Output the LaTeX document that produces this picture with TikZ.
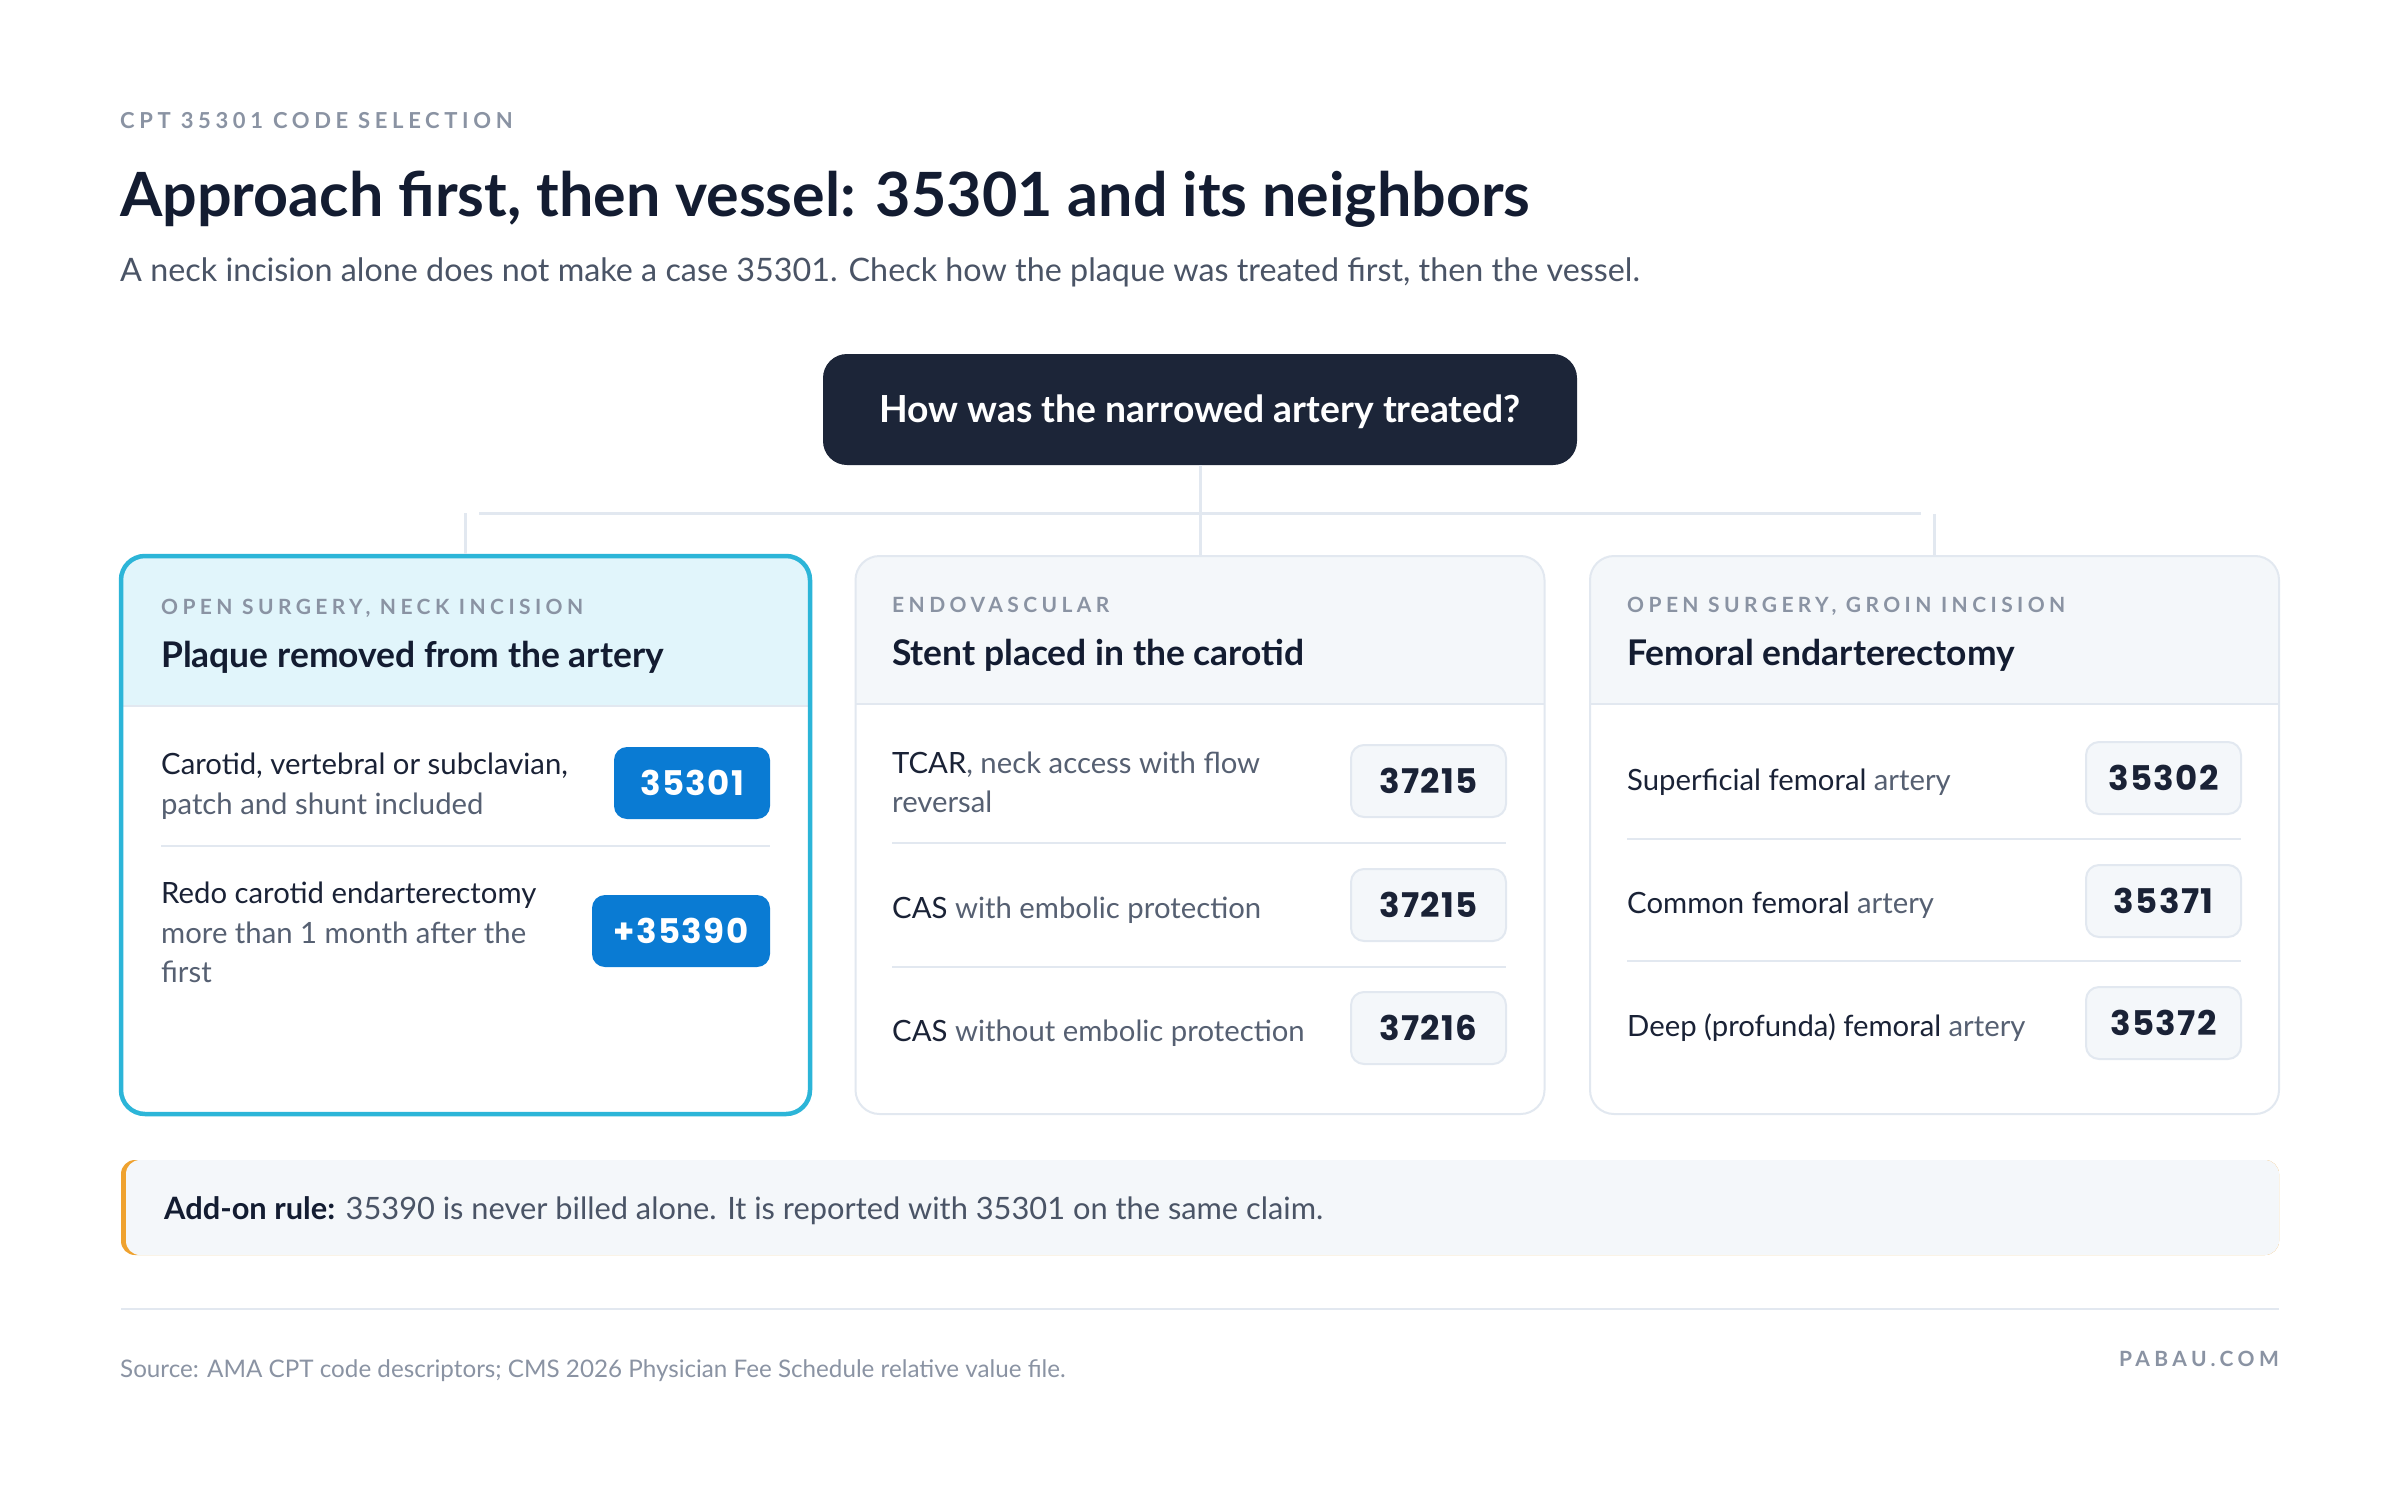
\documentclass[tikz,border=0pt]{standalone}
\usepackage{fontspec}
\setmainfont{Lato}
\newfontfamily\badgefont[Numbers=Monospaced,LetterSpace=4]{Poppins}
\newfontfamily\capsfont[LetterSpace=21]{Lato}
\definecolor{navy}{HTML}{1C2538}
\definecolor{ink}{HTML}{131C31}
\definecolor{bodyc}{HTML}{1A2236}
\definecolor{soft}{HTML}{566072}
\definecolor{subt}{HTML}{4A5466}
\definecolor{muted}{HTML}{8A93A3}
\definecolor{rulec}{HTML}{E2E8F0}
\definecolor{panel}{HTML}{F4F7FA}
\definecolor{cyanb}{HTML}{2CB5D8}
\definecolor{cyanf}{HTML}{E1F5FB}
\definecolor{blueb}{HTML}{0A7BD3}
\definecolor{orangec}{HTML}{EFA22F}
\begin{document}
\begin{tikzpicture}[x=1pt,y=-1pt,
  txt/.style={inner sep=0pt, anchor=base west},
  bodytxt/.style={txt, text=bodyc, font=\fontsize{29.3}{34}\selectfont},
  softtxt/.style={txt, text=soft, font=\fontsize{29.3}{34}\selectfont},
  eyebrowtxt/.style={txt, text=muted, font=\capsfont\bfseries\fontsize{21}{25}\selectfont},
  cardtitle/.style={txt, text=ink, font=\bfseries\fontsize{35.4}{40}\selectfont},
  cardbox/.style={draw=rulec, line width=2pt, rounded corners=24pt, minimum width=689pt, minimum height=558pt, inner sep=0pt},
  bluebadge/.style={fill=blueb, rounded corners=13pt, minimum height=72pt, inner sep=0pt, text=white, font=\badgefont\bfseries\fontsize{34}{38}\selectfont},
  graybadge/.style={fill=panel, draw=rulec, line width=2pt, rounded corners=13pt, minimum width=155pt, minimum height=72pt, inner sep=0pt, text=bodyc, font=\badgefont\bfseries\fontsize{34}{38}\selectfont},
  sep/.style={draw=rulec, line width=2.5pt},
  conn/.style={draw=rulec, line width=3pt}
]
\useasboundingbox (0,0) rectangle (2400,1490);
\fill[white] (0,0) rectangle (2400,1490);

% heading
\node[eyebrowtxt, font=\capsfont\bfseries\fontsize{22}{26}\selectfont] (eyebrow) at (120,129) {CPT 35301 CODE SELECTION};
\node[txt, text=ink, font=\bfseries\fontsize{61}{66}\selectfont] (title) at (120,216) {Approach first, then vessel: 35301 and its neighbors};
\node[txt, text=subt, font=\fontsize{32.3}{38}\selectfont] (subtitle) at (120,281) {A neck incision alone does not make a case 35301. Check how the plaque was treated first, then the vessel.};

% question
\node[fill=navy, rounded corners=24pt, minimum width=754pt, minimum height=111pt, inner sep=0pt, text height=26.8pt, text depth=0pt, text=white, font=\bfseries\fontsize{37.3}{42}\selectfont] (q) at (1200,409.5) {How was the narrowed artery treated?};

% cards: header fills
\begin{scope}
  \clip[rounded corners=24pt] (121,556) rectangle (810,1114);
  \fill[cyanf] (121,556) rectangle (810,706);
  \draw[sep, line width=2pt] (121,706) -- (810,706);
\end{scope}
\begin{scope}
  \clip[rounded corners=24pt] (855.5,556) rectangle (1544.5,1114);
  \fill[panel] (855.5,556) rectangle (1544.5,704);
  \draw[sep, line width=2pt] (855.5,704) -- (1544.5,704);
\end{scope}
\begin{scope}
  \clip[rounded corners=24pt] (1590,556) rectangle (2279,1114);
  \fill[panel] (1590,556) rectangle (2279,704);
  \draw[sep, line width=2pt] (1590,704) -- (2279,704);
\end{scope}
\node[cardbox, draw=cyanb, line width=4.5pt] (card1) at (465.5,835) {};
\node[cardbox] (card2) at (1200,835) {};
\node[cardbox] (card3) at (1934.5,835) {};

% connectors
\coordinate (hl) at (479,513);
\coordinate (hr) at (1921,513);
\draw[conn] (hl) -- (hr);
\draw[conn] (q.south) -- (card2.north);
\draw[conn] (card1.north) -- ++(0,-41);
\draw[conn] (card3.north) -- ++(0,-41);

% card 1
\node[eyebrowtxt] (c1e) at (161,614) {OPEN SURGERY, NECK INCISION};
\node[cardtitle] (c1t) at (161,667) {Plaque removed from the artery};
\node[bodytxt] (c1a1) at (161,774) {Carotid, vertebral or subclavian,};
\node[softtxt] (c1a2) at (161,814) {patch and shunt included};
\node[bluebadge, minimum width=156pt] (b35301) at (692,783) {35301};
\draw[sep] (161,846) -- (770,846);
\node[bodytxt] (c1b1) at (161,903) {Redo carotid endarterectomy};
\node[softtxt] (c1b2) at (161,943) {more than 1 month after the};
\node[softtxt] (c1b3) at (161,982) {first};
\node[bluebadge, minimum width=178pt] (b35390) at (681,931) {+35390};

% card 2
\node[eyebrowtxt] (c2e) at (892,612) {ENDOVASCULAR};
\node[cardtitle] (c2t) at (892,665) {Stent placed in the carotid};
\node[softtxt] (c2a1) at (892,773) {{\color{bodyc}TCAR}, neck access with flow};
\node[softtxt] (c2a2) at (892,812) {reversal};
\node[graybadge] (b37215a) at (1428.5,781) {37215};
\draw[sep] (892,843) -- (1506,843);
\node[softtxt] (c2b) at (892,918) {{\color{bodyc}CAS} with embolic protection};
\node[graybadge] (b37215b) at (1428.5,905) {37215};
\draw[sep] (892,967) -- (1506,967);
\node[softtxt] (c2c) at (892,1041) {{\color{bodyc}CAS} without embolic protection};
\node[graybadge] (b37216) at (1428.5,1028) {37216};

% card 3
\node[eyebrowtxt] (c3e) at (1627,612) {OPEN SURGERY, GROIN INCISION};
\node[cardtitle] (c3t) at (1627,665) {Femoral endarterectomy};
\node[softtxt] (c3a) at (1627,790) {{\color{bodyc}Superficial femoral} artery};
\node[graybadge] (b35302) at (2163.5,778) {35302};
\draw[sep] (1627,839) -- (2241,839);
\node[softtxt] (c3b) at (1627,913) {{\color{bodyc}Common femoral} artery};
\node[graybadge] (b35371) at (2163.5,901) {35371};
\draw[sep] (1627,961) -- (2241,961);
\node[softtxt] (c3c) at (1627,1036) {{\color{bodyc}Deep (profunda) femoral} artery};
\node[graybadge] (b35372) at (2163.5,1023) {35372};

% add-on rule
\fill[orangec, rounded corners=14pt] (121,1160) rectangle (2279,1255);
\fill[panel, rounded corners=14pt] (126,1160) rectangle (2279,1255);
\node[txt, text=subt, font=\fontsize{30.8}{36}\selectfont] (addon) at (164,1219) {{\color{ink}\bfseries Add-on rule:} 35390 is never billed alone. It is reported with 35301 on the same claim.};

% footer
\coordinate (fl) at (121,1309);
\coordinate (fr) at (2279,1309);
\draw[sep, line width=2pt] (fl) -- (fr);
\node[txt, text=muted, font=\fontsize{24.2}{28}\selectfont] (source) at (120,1377) {Source: AMA CPT code descriptors; CMS 2026 Physician Fee Schedule relative value file.};
\node[inner sep=0pt, anchor=base east, text=muted, font=\capsfont\bfseries\fontsize{21}{25}\selectfont] (brand) at (2279,1366) {PABAU.COM};
\end{tikzpicture}
\end{document}
